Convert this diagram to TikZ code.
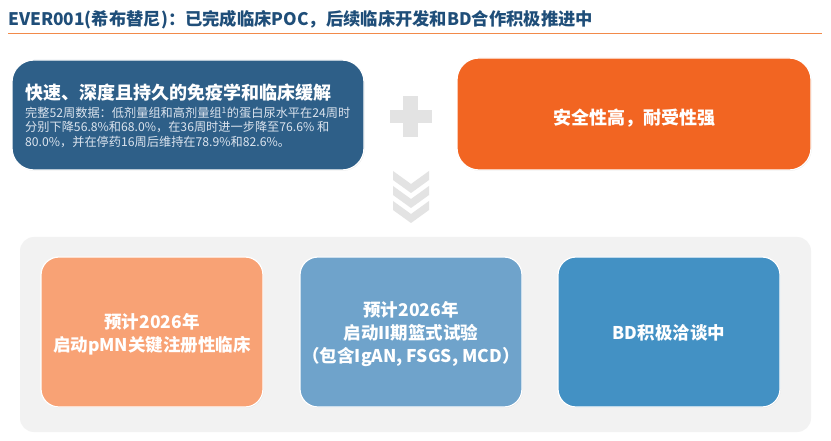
\documentclass[tikz,border=0pt]{standalone}
\usepackage{fontspec}
\setmainfont{Noto Sans CJK SC}
\usetikzlibrary{shadows}
\definecolor{titleblue}{HTML}{1F4E79}
\definecolor{lineorange}{HTML}{F28A4A}
\definecolor{leftblue}{HTML}{2E5F88}
\definecolor{safeorange}{HTML}{F26522}
\definecolor{salmon}{HTML}{F8A275}
\definecolor{midblue}{HTML}{6FA3CB}
\definecolor{deepblue}{HTML}{4391C4}
\definecolor{bggray}{HTML}{F2F2F2}
\definecolor{signgray}{HTML}{E3E3E3}
\definecolor{bodytext}{HTML}{DCE4EE}
\tikzset{
  card/.style={draw=white, line width=1.2pt, rounded corners=22pt, inner sep=0pt,
    drop shadow={opacity=0.18, shadow xshift=0.6pt, shadow yshift=-0.8pt}},
  bottomcard/.style={card, rounded corners=18pt, minimum width=222pt, minimum height=150pt},
  cardtext/.style={text=white, font=\bfseries\fontsize{17.5}{23}\selectfont, align=center, inner sep=0pt},
}
\begin{document}
\begin{tikzpicture}[x=1pt,y=-1pt]
\useasboundingbox (0,0) rectangle (831,441);
\fill[white] (0,0) rectangle (831,441);
% title
\node[anchor=west, inner sep=0pt, text=titleblue, font=\bfseries\fontsize{17.3}{20}\selectfont] (title) at (8,20)
  {EVER001(希布替尼)：已完成临床POC，后续临床开发和BD合作积极推进中};
\coordinate (ulA) at (8,33.5);
\coordinate (ulB) at (822,33.5);
\draw[lineorange, line width=1.5pt] (ulA) -- (ulB);
% top cards
\node[card, fill=leftblue, minimum width=352pt, minimum height=110pt] (left) at (188,115) {};
\node[anchor=west, inner sep=0pt, text=white, font=\bfseries\fontsize{18}{20}\selectfont] (lefthead) at (25,93)
  {快速、深度且持久的免疫学和临床缓解};
\node[anchor=north west, inner sep=0pt, align=left, text=bodytext, font=\fontsize{12.2}{14.3}\selectfont] (leftbody) at (25,107)
  {完整52周数据：低剂量组和高剂量组\textsuperscript{1}的蛋白尿水平在24周时\\
   分别下降56.8\%和68.0\%，在36周时进一步降至76.6\% 和\\
   80.0\%，并在停药16周后维持在78.9\%和82.6\%。};
\node[card, fill=safeorange, minimum width=354pt, minimum height=112pt] (safe) at (634,114) {};
\node[cardtext, font=\bfseries\fontsize{18}{20}\selectfont] (safetext) at (634,118) {安全性高，耐受性强};
% plus sign
\fill[signgray] (390,110) rectangle (432,123);
\fill[signgray] (403,96) rectangle (418,137);
% chevrons
\foreach \yy in {171,186,201}{
  \fill[signgray] (393,\yy) -- (411,\yy+13) -- (429,\yy) -- (429,\yy+9) -- (411,\yy+22) -- (393,\yy+9) -- cycle;
}
% bottom panel
\fill[bggray, rounded corners=14pt] (20,237) rectangle (811,432);
\node[bottomcard, fill=salmon] (b1) at (152,332) {};
\node[bottomcard, fill=midblue] (b2) at (411,332) {};
\node[bottomcard, fill=deepblue] (b3) at (669,332) {};
\node[cardtext] (t1) at (152,334) {预计2026年\\启动pMN关键注册性临床};
\node[cardtext] (t2) at (411,334) {预计2026年\\启动II期篮式试验\\（包含IgAN, FSGS, MCD）};
\node[cardtext] (t3) at (669,333) {BD积极洽谈中};
\end{tikzpicture}
\end{document}
